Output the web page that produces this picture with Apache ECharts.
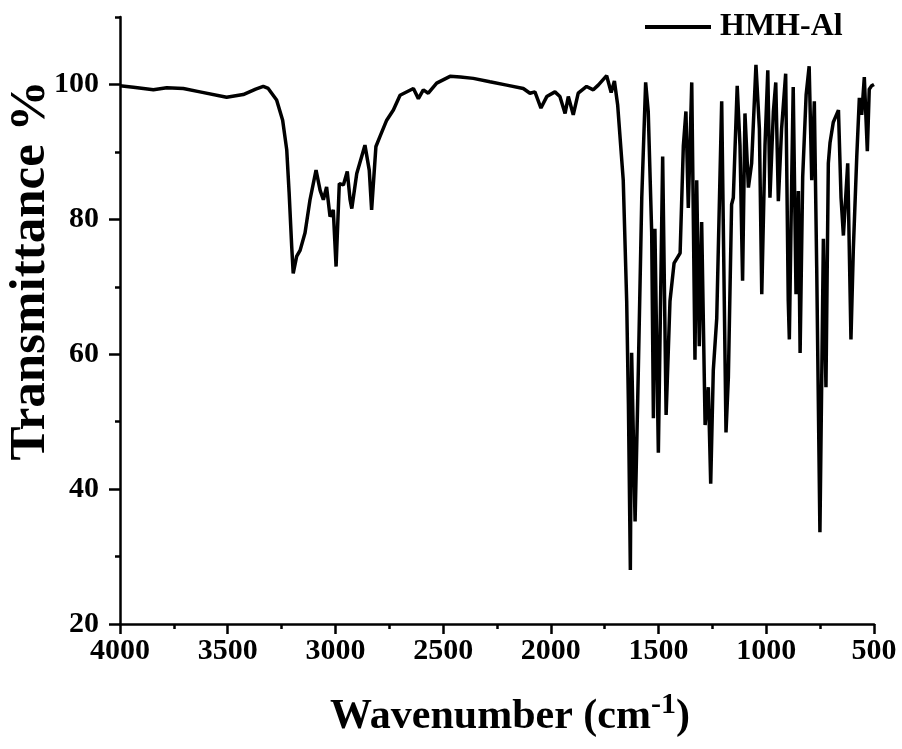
<!DOCTYPE html>
<html><head><meta charset="utf-8">
<script src="https://cdn.jsdelivr.net/npm/echarts@6/dist/echarts.min.js"></script>
<style>html,body{margin:0;padding:0;background:#fff}#c{width:902px;height:749px}</style>
</head><body><div id="c"></div>
<script>
const seriesName = 'HMH-Al';
const xTicks = [4000,3500,3000,2500,2000,1500,1000,500];
const yTicks = [20,40,60,80,100];
const wavenumber = [4000,3938,3845,3783,3706,3629,3505,3428,3370,3335,
3312,3273,3245,3226,3215,3203,3196,3180,3164,3141,
3118,3090,3071,3056,3041,3025,3010,2997,2982,2963,
2945,2932,2924,2901,2863,2843,2832,2812,2793,2762,
2731,2700,2638,2615,2592,2569,2530,2468,2420,2360,
2283,2205,2128,2097,2074,2046,2019,1981,1958,1934,
1919,1896,1873,1834,1803,1780,1741,1720,1705,1690,
1664,1648,1640,1631,1625,1609,1594,1578,1560,1548,
1532,1524,1517,1501,1481,1465,1447,1428,1400,1385,
1373,1362,1346,1331,1323,1311,1300,1284,1269,1258,
1246,1230,1207,1187,1176,1161,1153,1135,1122,1110,
1099,1083,1068,1048,1032,1021,1006,993,983,967,
956,944,929,910,898,893,882,875,862,851,
843,831,815,801,789,777,766,751,735,723,
712,704,689,665,653,642,622,607,596,580,
568,557,545,531,522,511,500];
const transmittance = [99.8,99.6,99.2,99.5,99.4,98.9,98.1,98.5,99.3,99.7,
99.4,97.7,94.7,90.3,84,76,72.0,74.5,75.4,78,
82.9,87.3,84.3,82.9,84.8,80.4,81.4,73.0,85.3,85.1,
87.1,82.9,81.6,86.8,91.0,87.3,81.4,90.8,92.3,94.7,
96.2,98.4,99.4,97.9,99.2,98.7,100.2,101.2,101.1,100.9,
100.4,99.9,99.4,98.7,98.9,96.5,98.2,98.9,98.2,95.7,
98.2,95.5,98.7,99.7,99.2,99.9,101.3,98.8,100.5,97,
85.8,67.9,52.6,28,60.2,35.2,57.6,83.2,100.3,96,
78.1,50.5,78.6,45.4,89.3,51,67.9,73.5,75,90.9,
96,81.7,100.3,59.2,85.8,61.2,79.6,49.5,55.1,40.8,
57.6,65.3,97.5,48.4,56.6,82.2,83.2,99.8,90.9,70.9,
95.7,84.7,88.3,102.9,93.4,68.9,90.9,102.1,83.2,96.0,
100.3,82.7,93.4,101.6,67.9,62.2,85.8,99.6,68.9,84.2,
60.2,86.3,98.5,102.7,85.8,97.5,73.0,33.6,77.1,55.1,
88.3,91.4,94.4,96.2,83.2,77.6,88.3,62.2,75.5,89.3,
98.0,95.5,101.1,90.1,99.3,99.8,100.0];

const data = wavenumber.map((w,i)=>[w, transmittance[i]]);
const FONT = '"Liberation Serif","Times New Roman",serif';
const chart = echarts.init(document.getElementById('c'), null, {renderer:'canvas'});
chart.setOption({
  animation:false,
  backgroundColor:'#fff',
  grid:{left:120,right:28,top:17,bottom:125,containLabel:false,outerBoundsMode:'none'},
  legend:{
    data:[seriesName], left:640, top:6, icon:'rect', itemWidth:66, itemHeight:4, itemGap:10,
    textStyle:{fontFamily:FONT,fontWeight:'bold',fontSize:32,color:'#000',padding:[0,0,0,4]}
  },
  xAxis:{
    type:'value', inverse:true, min:500, max:4000, interval:500,
    axisLine:{show:true,lineStyle:{color:'#000',width:2.5}},
    axisTick:{show:true,length:10,lineStyle:{color:'#000',width:2.5},customValues:xTicks},
    minorTick:{show:true,splitNumber:2,length:5,lineStyle:{color:'#000',width:2.5}},
    splitLine:{show:false},
    axisLabel:{fontFamily:FONT,fontWeight:'bold',fontSize:30,color:'#000',margin:12,customValues:xTicks,
      formatter:v=>String(v)},
    name:'{a|Wavenumber (cm}{b|-1}{a|)}', nameLocation:'middle', nameGap:66, nameMoveOverlap:false,
    nameTextStyle:{padding:[0,0,0,26],
      rich:{a:{fontFamily:FONT,fontWeight:'bold',fontSize:42,color:'#000',lineHeight:48,verticalAlign:'bottom'},
            b:{fontFamily:FONT,fontWeight:'bold',fontSize:30,color:'#000',lineHeight:48,verticalAlign:'top'}}}
  },
  yAxis:[{
    type:'value', min:20, max:110, interval:10, position:'left',
    axisLine:{show:true,lineStyle:{color:'#000',width:2.5}},
    axisTick:{show:true,length:5,lineStyle:{color:'#000',width:2.5}},
    splitLine:{show:false},
    axisLabel:{show:false}
  },{
    type:'value', min:20, max:110, interval:20, position:'left', offset:0,
    axisLine:{show:false},
    axisTick:{show:true,length:11,lineStyle:{color:'#000',width:2.5},customValues:yTicks},
    splitLine:{show:false},
    axisLabel:{fontFamily:FONT,fontWeight:'bold',fontSize:30,color:'#000',margin:21,customValues:yTicks,
      formatter:v=>String(v)},
    name:'Transmittance %', nameLocation:'middle', nameGap:64, nameRotate:90, nameMoveOverlap:false,
    nameTextStyle:{fontFamily:FONT,fontWeight:'bold',fontSize:51,color:'#000',padding:[0,0,0,100]}
  }],
  series:[{
    name:seriesName, type:'line', data:data, xAxisIndex:0, yAxisIndex:0,
    symbol:'none', smooth:false,
    lineStyle:{color:'#000',width:3.5}, itemStyle:{color:'#000'}
  }]
});
</script></body></html>
